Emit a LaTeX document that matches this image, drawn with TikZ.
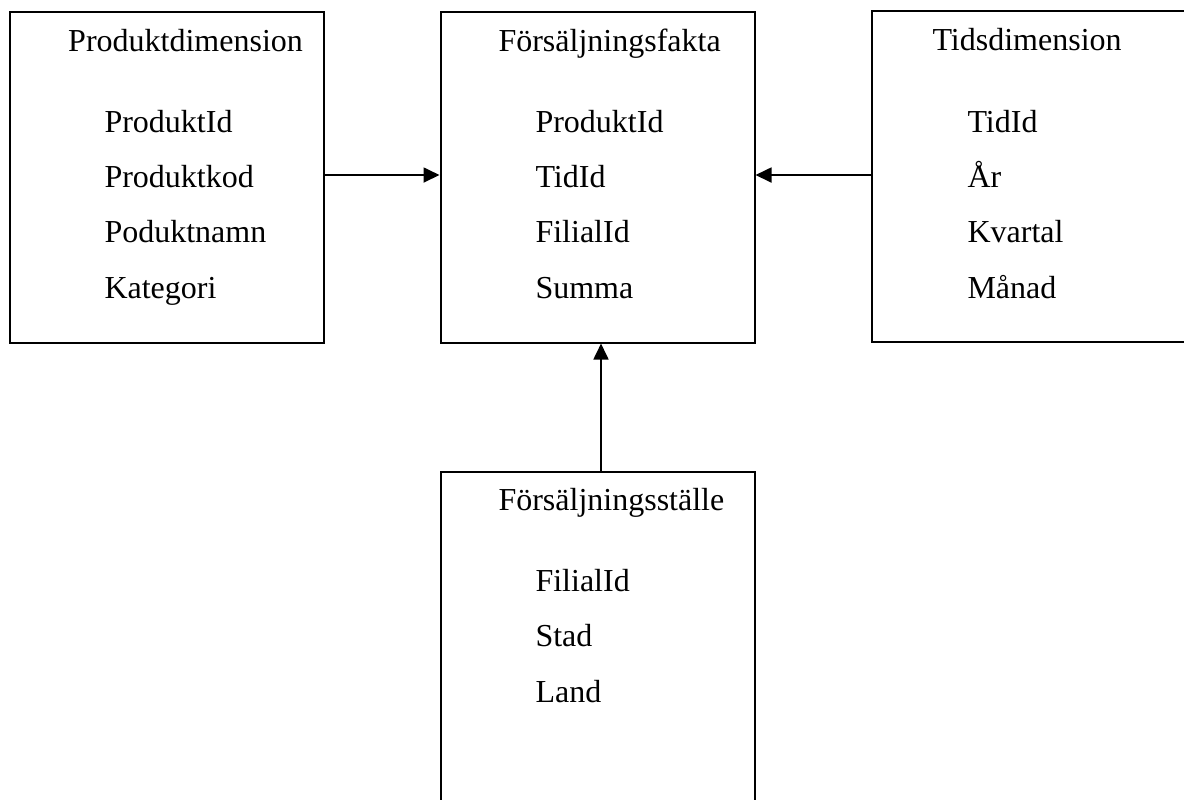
\documentclass[tikz,border=0pt]{standalone}
\usepackage{fontspec}
\setmainfont{Liberation Serif}
\usetikzlibrary{arrows.meta}
\begin{document}
\begin{tikzpicture}[x=0.375pt,y=-0.375pt,
  tbl/.style={draw,line width=0.75pt,inner sep=0pt,anchor=north west},
  lbl/.style={inner sep=0pt,anchor=base west,font=\fontsize{12pt}{14pt}\selectfont},
  arr/.style={line width=0.75pt,-{Triangle[length=6pt,width=5.6pt]}}]
\useasboundingbox (0,0) rectangle (1184,799);
\fill[white] (0,0) rectangle (1184,799);
\begin{scope}
\clip (0,0) rectangle (1184,799);
% boxes
\node[tbl,minimum width=117.94pt,minimum height=124.31pt] (prod) at (8.5,10.5) {};
\node[tbl,minimum width=117.75pt,minimum height=124.13pt] (fakta) at (439.5,10.5) {};
\node[tbl,minimum width=125pt,minimum height=124.1pt] (tids) at (871,10) {};
\node[tbl,minimum width=117.75pt,minimum height=150pt] (stalle) at (439.5,470.5) {};
% Produktdimension
\node[lbl] (pt) at (67.7,51) {Produktdimension};
\node[lbl] (p1) at (104,132) {ProduktId};
\node[lbl] (p2) at (104,187) {Produktkod};
\node[lbl] (p3) at (104,242) {Poduktnamn};
\node[lbl] (p4) at (104,298) {Kategori};
% Försäljningsfakta
\node[lbl] (ft) at (498,51) {Försäljningsfakta};
\node[lbl] (f1) at (535,132) {ProduktId};
\node[lbl] (f2) at (535,187) {TidId};
\node[lbl] (f3) at (535,242) {FilialId};
\node[lbl] (f4) at (535,298) {Summa};
% Tidsdimension
\node[lbl] (tt) at (932,50) {Tidsdimension};
\node[lbl] (t1) at (967,132) {TidId};
\node[lbl] (t2) at (967,187) {År};
\node[lbl] (t3) at (967,242) {Kvartal};
\node[lbl] (t4) at (967,298) {Månad};
% Försäljningsställe
\node[lbl] (st) at (498,510) {Försäljningsställe};
\node[lbl] (s1) at (535,591.7) {FilialId};
\node[lbl] (s2) at (535,646.7) {Stad};
\node[lbl] (s3) at (535,702) {Land};
% connectors
\coordinate (ay) at (0,175);
\coordinate (ax) at (601,0);
\draw[arr] (prod.east |- ay) -- (fakta.west |- ay);
\draw[arr] (tids.west |- ay) -- (fakta.east |- ay);
\draw[arr] (stalle.north -| ax) -- (fakta.south -| ax);
\end{scope}
\end{tikzpicture}
\end{document}
